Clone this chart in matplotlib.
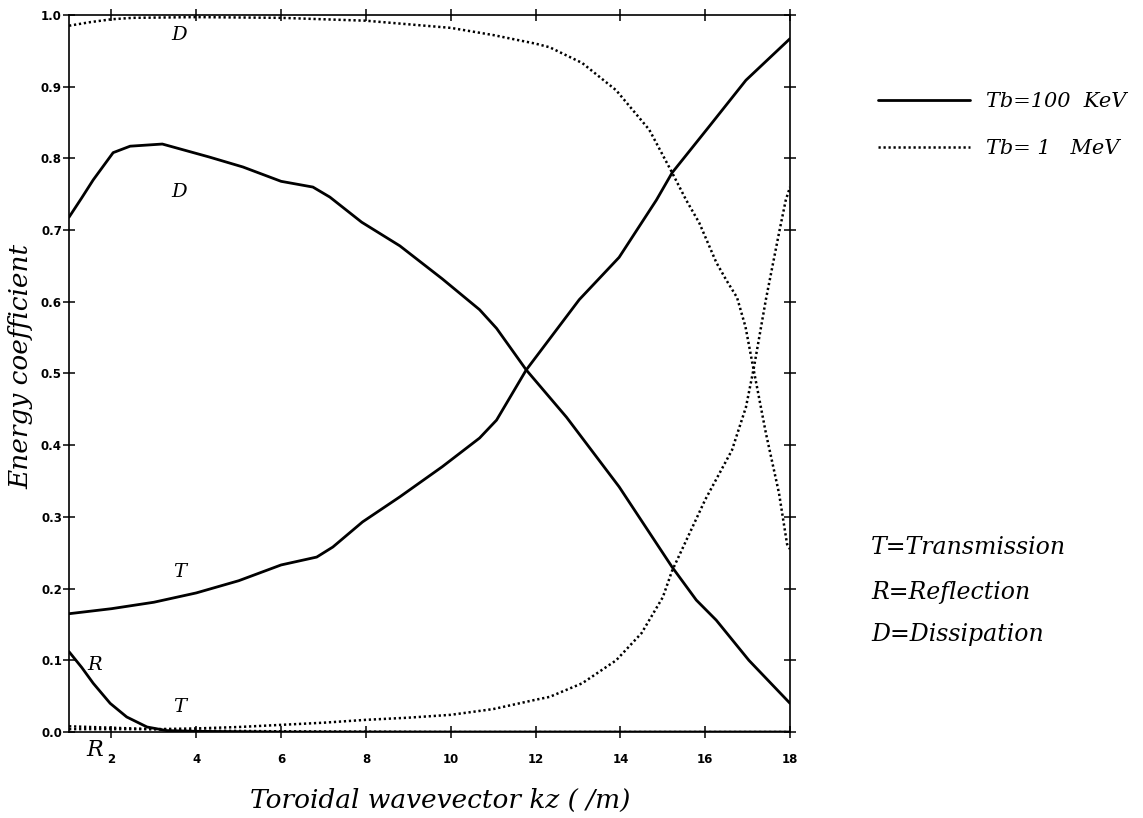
import matplotlib
matplotlib.use("Agg")
import matplotlib.pyplot as plt

# ---------------- data ----------------
# Tb = 100 KeV (solid)
d100_x = [1.0, 1.3, 1.57, 2.04, 2.44, 3.2, 4.3, 5.1, 6.0, 6.75, 7.15, 7.9, 8.8,
          9.8, 10.68, 11.08, 11.78, 12.73, 13.97, 15.22, 15.79, 16.26, 17.03, 18.0]
d100_y = [0.718, 0.745, 0.770, 0.808, 0.817, 0.820, 0.802, 0.788, 0.768, 0.760,
          0.746, 0.711, 0.678, 0.632, 0.589, 0.563, 0.505, 0.439, 0.342, 0.230,
          0.184, 0.156, 0.100, 0.040]

t100_x = [1.0, 2.0, 3.0, 4.0, 5.0, 6.0, 6.84, 7.22, 7.92, 8.8, 9.8, 10.68, 11.08,
          11.78, 13.03, 13.97, 14.85, 15.22, 16.1, 16.96, 18.0]
t100_y = [0.165, 0.172, 0.181, 0.194, 0.211, 0.233, 0.244, 0.258, 0.293, 0.328,
          0.370, 0.410, 0.435, 0.505, 0.603, 0.662, 0.742, 0.780, 0.845, 0.909,
          0.967]

r100_x = [1.0, 1.3, 1.57, 1.97, 2.36, 2.84, 3.3, 4.0, 6.0, 10.0, 14.0, 18.0]
r100_y = [0.112, 0.090, 0.068, 0.040, 0.021, 0.007, 0.002, 0.001, 0.0, 0.0, 0.0, 0.0]

# Tb = 1 MeV (dotted)
d1_x = [1.0, 1.5, 2.0, 2.5, 4.0, 6.0, 8.0, 10.0, 11.0, 12.0, 12.33, 13.1, 13.9,
        14.68, 15.22, 15.55, 15.86, 16.26, 16.5, 16.75, 16.95, 17.11, 17.43,
        17.74, 17.93, 18.0]
d1_y = [0.985, 0.990, 0.994, 0.996, 0.997, 0.996, 0.992, 0.982, 0.972, 0.960,
        0.955, 0.933, 0.895, 0.840, 0.780, 0.742, 0.710, 0.655, 0.630, 0.606,
        0.565, 0.515, 0.417, 0.333, 0.262, 0.255]

t1_x = [1.0, 2.0, 3.0, 4.0, 5.0, 6.0, 7.0, 8.0, 9.0, 10.0, 11.0, 12.0, 12.33,
        13.1, 13.9, 14.5, 15.0, 15.22, 16.0, 16.63, 16.96, 17.15, 17.43, 17.74,
        17.9, 18.0]
t1_y = [0.004, 0.004, 0.004, 0.005, 0.007, 0.010, 0.013, 0.017, 0.020, 0.024,
        0.032, 0.045, 0.049, 0.068, 0.100, 0.138, 0.188, 0.225, 0.324, 0.393,
        0.453, 0.509, 0.603, 0.696, 0.742, 0.760]

r1_x = [1.0, 2.0, 3.0, 4.0, 6.0, 10.0, 18.0]
r1_y = [0.008, 0.006, 0.004, 0.002, 0.001, 0.0, 0.0]

xticks = [2, 4, 6, 8, 10, 12, 14, 16, 18]
yticks = [0.0, 0.1, 0.2, 0.3, 0.4, 0.5, 0.6, 0.7, 0.8, 0.9, 1.0]

serif = "DejaVu Serif"
dots = (0, (0.9, 1.1))
solid_kw = dict(color="black", lw=2.0, solid_joinstyle="round", solid_capstyle="round")
dot_kw = dict(color="black", lw=1.8, ls=dots, dash_joinstyle="round")

fig = plt.figure(figsize=(11.43, 8.18), dpi=100)
ax = fig.add_axes([0.0604, 0.1051, 0.6308, 0.8766])

ax.plot(d100_x, d100_y, label="Tb=100  KeV", **solid_kw)
ax.plot(t100_x, t100_y, **solid_kw)
ax.plot(r100_x, r100_y, **solid_kw)
ax.plot(d1_x, d1_y, label="Tb= 1   MeV", **dot_kw)
ax.plot(t1_x, t1_y, **dot_kw)
ax.plot(r1_x, r1_y, **dot_kw)

ax.set_xlim(1, 18)
ax.set_ylim(0, 1.0)
ax.set_xticks(xticks)
ax.set_yticks(yticks)
ax.set_xticklabels([str(v) for v in xticks])
ax.set_yticklabels(["%.1f" % v for v in yticks])

ax.tick_params(direction="inout", length=8.6, width=1.1, top=True, right=True,
               labelsize=8.5)
ax.tick_params(axis="x", pad=11)
ax.tick_params(axis="y", pad=0.8)
for lab in ax.get_xticklabels() + ax.get_yticklabels():
    lab.set_fontweight("bold")
for sp in ax.spines.values():
    sp.set_linewidth(1.2)

# curve labels
lab_kw = dict(fontsize=14, fontstyle="italic", family=serif, ha="center", va="center")
ax.text(3.6, 0.972, "D", **lab_kw)
ax.text(3.6, 0.753, "D", **lab_kw)
ax.text(3.6, 0.223, "T", **lab_kw)
ax.text(3.6, 0.035, "T", **lab_kw)
ax.text(1.6, 0.093, "R", **lab_kw)
ax.text(1.6, -0.025, "R", fontsize=16, fontstyle="italic", family=serif,
        ha="center", va="center")

ax.set_xlabel("Toroidal wavevector kz ( /m)", fontsize=19, fontstyle="italic",
              family=serif, va="center")
ax.xaxis.set_label_coords(0.515, -0.095)
ax.set_ylabel("Energy coefficient", fontsize=19, fontstyle="italic",
              family=serif, va="center")
ax.yaxis.set_label_coords(-0.067, 0.51)

leg = fig.legend(loc="center left", bbox_to_anchor=(0.752, 0.847), frameon=False,
                 handlelength=4.4, handletextpad=0.75, labelspacing=1.35,
                 prop={"family": serif, "style": "italic", "size": 15})

side_kw = dict(fontsize=17, fontstyle="italic", family=serif, ha="left", va="center")
fig.text(0.762, 1 - 548 / 818, "T=Transmission", **side_kw)
fig.text(0.762, 1 - 592 / 818, "R=Reflection", **side_kw)
fig.text(0.762, 1 - 635 / 818, "D=Dissipation", **side_kw)

fig.savefig("out.png", dpi=100)
